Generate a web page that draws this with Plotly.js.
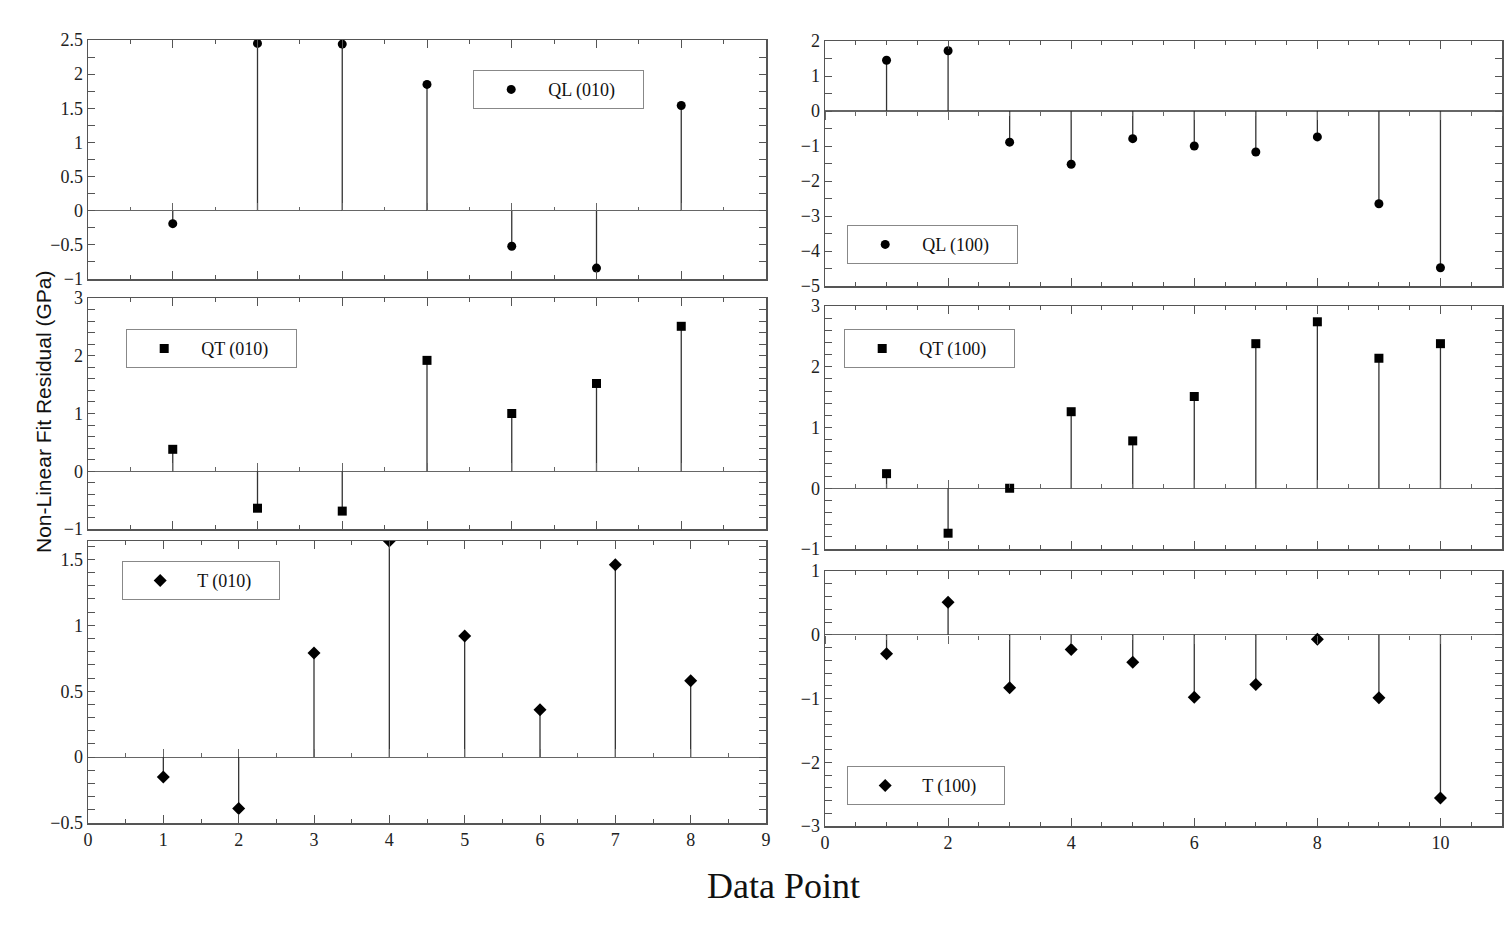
<!DOCTYPE html>
<html>
<head>
<meta charset="utf-8">
<script src="https://cdn.plot.ly/plotly-3.0.1.min.js"></script>
<style>
  html, body { margin: 0; padding: 0; background: #fff; }
  #chart { width: 1510px; height: 928px; }
</style>
</head>
<body>
<div id="chart"></div>
<script>
// data (residuals in GPa)
var xLeftTop = [1, 2, 3, 4, 5, 6, 7];
var xLeftBottom = [1, 2, 3, 4, 5, 6, 7, 8];
var xRight = [1, 2, 3, 4, 5, 6, 7, 8, 9, 10];

var ql010 = [-0.19, 2.45, 2.44, 1.85, -0.52, -0.84, 1.54];
var qt010 = [0.38, -0.64, -0.69, 1.92, 1.0, 1.52, 2.51];
var t010 = [-0.15, -0.39, 0.79, 1.64, 0.92, 0.36, 1.46, 0.58];

var ql100 = [1.45, 1.72, -0.89, -1.52, -0.79, -1.0, -1.17, -0.74, -2.65, -4.48];
var qt100 = [0.24, -0.74, 0.0, 1.26, 0.78, 1.51, 2.38, 2.74, 2.14, 2.38];
var t100 = [-0.30, 0.51, -0.83, -0.23, -0.43, -0.98, -0.78, -0.07, -0.99, -2.56];

var names = ['QL (010)', 'QT (010)', 'T (010)', 'QL (100)', 'QT (100)', 'T (100)'];

var W = 1510, H = 928;
var serif = 'Liberation Serif, Times New Roman, serif';
var frameColor = '#555';

// panel domains (paper fractions)
var domLeft = [88 / W, 766 / W];
var domRight = [825 / W, 1502 / W];
var domY = [
    [1 - 279 / H, 1 - 40 / H],
    [1 - 529 / H, 1 - 298 / H],
    [1 - 823 / H, 1 - 541 / H],
    [1 - 286 / H, 1 - 41 / H],
    [1 - 549 / H, 1 - 306 / H],
    [1 - 826 / H, 1 - 571 / H]
];
var yRanges = [[-1, 2.5], [-1, 3], [-0.5, 1.64], [-5, 2], [-1, 3], [-3, 1]];
var yDtick = [0.5, 1, 0.5, 1, 1, 1];
var yMinor = [0.25, 0.2, 0.1, 0.5, 0.2, 0.2];
var xRanges = [[0, 8], [0, 8], [0, 9], [0, 11], [0, 11], [0, 11]];
var xDtick = [1, 1, 1, 2, 2, 2];
var showXLabels = [false, false, true, false, false, true];
// direction of the little ticks sitting on the zero line
var zeroTickDir = ['inside', 'inside', 'inside', 'outside', 'inside', 'outside'];

var legendPos = [
    [473 / W, 1 - 70 / H],
    [126 / W, 1 - 329 / H],
    [122 / W, 1 - 561 / H],
    [847 / W, 1 - 225 / H],
    [844 / W, 1 - 329 / H],
    [847 / W, 1 - 766 / H]
];
var legendEntry = [89, 89, 76, 89, 89, 76];

function stemTrace(x, y, name, symbol, size, idx) {
    var suffix = idx == 0 ? '' : String(idx + 1);
    return {
        x: x,
        y: y,
        name: name,
        type: 'scatter',
        mode: 'markers',
        xaxis: 'x' + suffix,
        yaxis: 'y' + suffix,
        legend: 'legend' + suffix,
        showlegend: true,
        cliponaxis: true,
        marker: { symbol: symbol, size: size, color: '#000' },
        error_y: {
            type: 'data',
            symmetric: false,
            array: y.map(function (v) { return v < 0 ? -v : 0; }),
            arrayminus: y.map(function (v) { return v > 0 ? v : 0; }),
            width: 0,
            thickness: 1.3,
            color: '#333'
        }
    };
}

var data = [
    stemTrace(xLeftTop, ql010, names[0], 'circle', 9, 0),
    stemTrace(xLeftTop, qt010, names[1], 'square', 9, 1),
    stemTrace(xLeftBottom, t010, names[2], 'diamond', 10, 2),
    stemTrace(xRight, ql100, names[3], 'circle', 9, 3),
    stemTrace(xRight, qt100, names[4], 'square', 9, 4),
    stemTrace(xRight, t100, names[5], 'diamond', 10, 5)
];

var tickFont = { family: serif, size: 18, color: '#222' };

var layout = {
    width: W,
    height: H,
    margin: { l: 0, r: 0, t: 0, b: 0 },
    paper_bgcolor: '#fff',
    plot_bgcolor: '#fff',
    annotations: [
        {
            text: 'Non-Linear Fit Residual (GPa)',
            xref: 'paper', yref: 'paper',
            x: 43 / W, y: 1 - 412 / H,
            xanchor: 'center', yanchor: 'middle',
            textangle: -90,
            showarrow: false,
            font: { family: 'Liberation Sans, Arial, sans-serif', size: 21, color: '#111' }
        },
        {
            text: 'Data Point',
            xref: 'paper', yref: 'paper',
            x: 783 / W, y: 1 - 886 / H,
            xanchor: 'center', yanchor: 'middle',
            showarrow: false,
            font: { family: serif, size: 36, color: '#111' }
        }
    ]
};

for (var i = 0; i < 6; i++) {
    var suffix = i == 0 ? '' : String(i + 1);
    var xDom = i < 3 ? domLeft : domRight;

    layout['xaxis' + suffix] = {
        domain: xDom,
        anchor: 'y' + suffix,
        range: xRanges[i],
        dtick: xDtick[i],
        tick0: 0,
        showticklabels: showXLabels[i],
        tickfont: tickFont,
        ticks: 'inside',
        ticklen: 8,
        tickwidth: 1,
        tickcolor: frameColor,
        minor: { dtick: 0.5, ticks: 'inside', ticklen: 4, tickcolor: frameColor, showgrid: false },
        showline: true,
        linecolor: frameColor,
        linewidth: 1.5,
        mirror: 'allticks',
        showgrid: false,
        zeroline: false,
        fixedrange: true
    };

    layout['yaxis' + suffix] = {
        domain: domY[i],
        anchor: 'x' + suffix,
        range: yRanges[i],
        dtick: yDtick[i],
        tick0: 0,
        tickfont: tickFont,
        ticks: 'inside',
        ticklen: 7,
        tickwidth: 1,
        tickcolor: frameColor,
        minor: { dtick: yMinor[i], ticks: 'inside', ticklen: 4, tickcolor: frameColor, showgrid: false },
        showline: true,
        linecolor: frameColor,
        linewidth: 1.5,
        mirror: 'allticks',
        showgrid: false,
        zeroline: true,
        zerolinecolor: '#666',
        zerolinewidth: 1.2,
        fixedrange: true
    };

    // extra x axis riding on y = 0, only for its ticks
    var yr = yRanges[i];
    var dy = domY[i];
    var zeroPos = dy[0] + (0 - yr[0]) / (yr[1] - yr[0]) * (dy[1] - dy[0]);
    layout['xaxis' + (i + 7)] = {
        overlaying: 'x' + suffix,
        anchor: 'free',
        position: zeroPos,
        side: 'bottom',
        range: xRanges[i],
        dtick: xDtick[i],
        tick0: 0,
        showticklabels: false,
        ticks: zeroTickDir[i],
        ticklen: 8,
        tickwidth: 1,
        tickcolor: '#666',
        minor: { dtick: 0.5, ticks: zeroTickDir[i], ticklen: 4, tickcolor: '#666', showgrid: false },
        showline: false,
        showgrid: false,
        zeroline: false,
        fixedrange: true
    };
    // empty trace so the overlay axis gets drawn
    data.push({
        x: [], y: [], type: 'scatter', mode: 'markers',
        xaxis: 'x' + (i + 7), yaxis: 'y' + suffix,
        showlegend: false, hoverinfo: 'skip'
    });

    layout['legend' + suffix] = {
        x: legendPos[i][0],
        y: legendPos[i][1],
        xanchor: 'left',
        yanchor: 'top',
        orientation: 'h',
        entrywidth: legendEntry[i],
        bgcolor: '#fff',
        bordercolor: '#888',
        borderwidth: 1.2,
        itemwidth: 64,
        font: { family: serif, size: 18, color: '#111' }
    };
}

Plotly.newPlot('chart', data, layout, { staticPlot: true, displayModeBar: false });
</script>
</body>
</html>
